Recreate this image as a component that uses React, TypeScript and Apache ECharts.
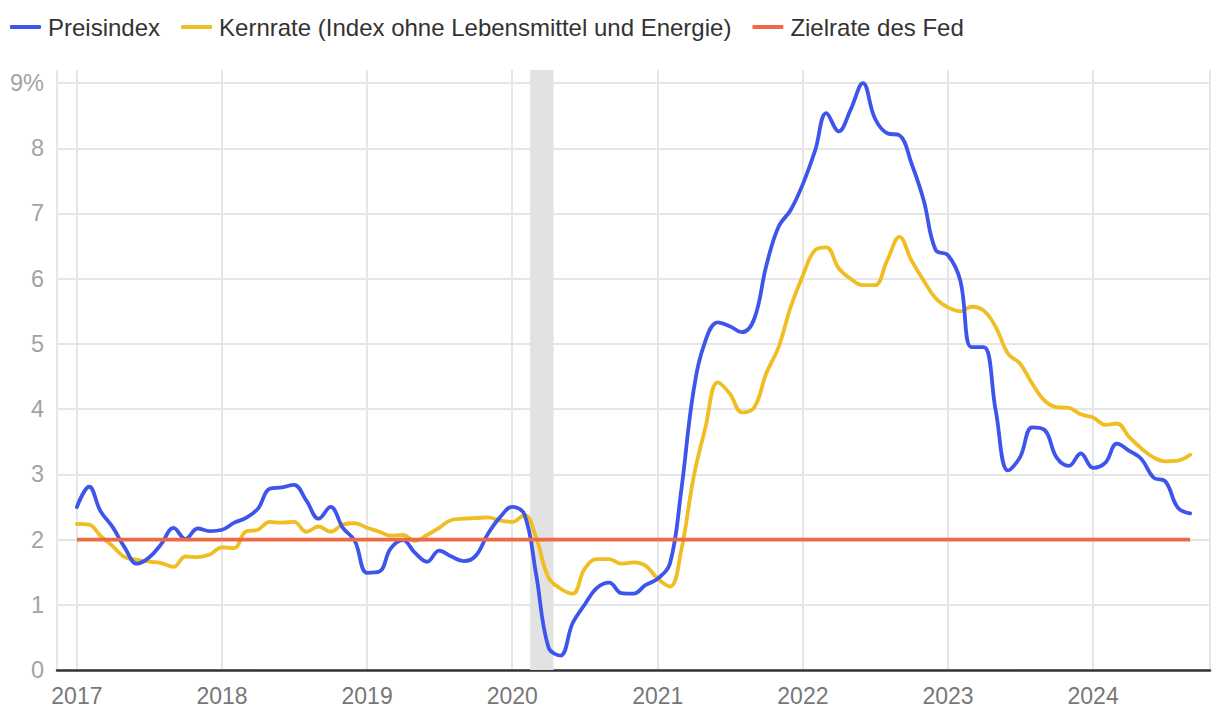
import React, { useEffect, useRef } from "react";
import * as echarts from "echarts";

const startYear = 2017;
const seriesNames = ["Preisindex", "Kernrate (Index ohne Lebensmittel und Energie)", "Zielrate des Fed"];

const headline = [
  2.50, 2.81, 2.44, 2.19, 1.88, 1.63, 1.72, 1.93, 2.18, 2.01, 2.17, 2.13,
  2.15, 2.26, 2.33, 2.47, 2.78, 2.80, 2.84, 2.60, 2.32, 2.50, 2.18, 1.98,
  1.49, 1.51, 1.86, 1.99, 1.80, 1.66, 1.83, 1.74, 1.67, 1.75, 2.09, 2.34,
  2.50, 2.38, 1.47, 0.35, 0.22, 0.72, 1.00, 1.26, 1.34, 1.18, 1.17, 1.30,
  1.40, 1.64, 2.75, 4.28, 5.05, 5.33, 5.27, 5.18, 5.39, 6.20, 6.80, 7.05,
  7.45, 7.97, 8.54, 8.26, 8.59, 9.00, 8.46, 8.23, 8.20, 7.77, 7.20, 6.44,
  6.36, 5.97, 4.95, 4.95, 3.98, 3.06, 3.26, 3.72, 3.68, 3.26, 3.13, 3.32,
  3.10, 3.18, 3.47, 3.36, 3.24, 2.95, 2.89, 2.49, 2.40,
];

const core = [
  2.24, 2.23, 2.06, 1.90, 1.73, 1.69, 1.66, 1.64, 1.58, 1.74, 1.73, 1.77,
  1.88, 1.87, 2.12, 2.15, 2.27, 2.26, 2.27, 2.12, 2.20, 2.12, 2.23, 2.25,
  2.18, 2.12, 2.06, 2.07, 1.98, 2.07, 2.18, 2.30, 2.32, 2.33, 2.34, 2.29,
  2.27, 2.38, 2.03, 1.42, 1.25, 1.17, 1.55, 1.70, 1.70, 1.63, 1.65, 1.60,
  1.40, 1.28, 1.83, 2.95, 3.72, 4.41, 4.24, 3.95, 4.03, 4.55, 4.95, 5.56,
  6.05, 6.44, 6.48, 6.16, 6.00, 5.90, 5.90, 6.28, 6.64, 6.28, 5.97, 5.70,
  5.56, 5.50, 5.57, 5.51, 5.26, 4.85, 4.70, 4.39, 4.13, 4.03, 4.02, 3.92,
  3.87, 3.76, 3.78, 3.57, 3.40, 3.26, 3.20, 3.21, 3.30,
];

const fedTarget = headline.map(() => 2.0);

const recession = ["2020-02-15", "2020-04-14"];
const xRange = ["2016-11-12", "2024-10-21"];
const yTicks = [0, 1, 2, 3, 4, 5, 6, 7, 8, 9];

const colors = ["#3d55ea", "#f0bd22", "#ec6b46"];

function monthDate(i: number): string {
  const y = startYear + Math.floor(i / 12);
  const m = (i % 12) + 1;
  return `${y}-${m < 10 ? "0" + m : m}-01`;
}

export default function App() {
  const ref = useRef<HTMLDivElement>(null);
  useEffect(() => {
    if (!ref.current) return;
    const chart = echarts.init(ref.current, undefined, { renderer: "svg" });
    const toPairs = (arr: number[]) => arr.map((v, i) => [monthDate(i), v]);
    const font = "'Liberation Sans', Arial, Helvetica, sans-serif";
    chart.setOption({
      animation: false,
      color: colors,
      textStyle: { fontFamily: font },
      legend: {
        left: 10,
        top: 15,
        padding: 0,
        itemGap: 21,
        itemWidth: 31,
        itemHeight: 4,
        icon: "roundRect",
        textStyle: { fontSize: 24, color: "#333", fontFamily: font, padding: [0, 0, 0, 2] },
        data: seriesNames,
      },
      grid: { left: 57, right: 10, top: 70, bottom: 46, containLabel: false },
      xAxis: {
        type: "time",
        min: xRange[0],
        max: xRange[1],
        minInterval: 365 * 24 * 3600 * 1000,
        maxInterval: 366 * 24 * 3600 * 1000,
        axisLine: { show: true, lineStyle: { color: "#333", width: 2.5 } },
        axisTick: { show: false },
        splitLine: { show: true, lineStyle: { color: "#e6e6e6", width: 2 } },
        axisLabel: {
          color: "#777",
          fontSize: 23,
          margin: 14,
          fontFamily: font,
          formatter: (val: number) => String(new Date(val).getFullYear()),
        },
      },
      yAxis: {
        type: "value",
        min: 0,
        max: 9.2,
        interval: 1,
        axisLine: { show: false },
        axisTick: { show: false },
        splitLine: { show: true, showMaxLine: false, lineStyle: { color: "#e6e6e6", width: 2 } },
        axisLabel: {
          color: "#a3a3a3",
          fontSize: 23.5,
          margin: 13,
          fontFamily: font,
          showMaxLabel: false,
          formatter: (v: number) => {
            if (!yTicks.includes(v)) return "";
            return v === 9 ? "9%" : String(v);
          },
        },
      },
      series: [
        {
          name: seriesNames[0],
          type: "line",
          data: toPairs(headline),
          smooth: 0.4,
          showSymbol: false,
          symbol: "none",
          lineStyle: { width: 3.8, color: colors[0], cap: "round", join: "round" },
          z: 3,
          markArea: {
            silent: true,
            itemStyle: { color: "#e2e2e2" },
            data: [[{ xAxis: recession[0] }, { xAxis: recession[1] }]],
          },
        },
        {
          name: seriesNames[1],
          type: "line",
          data: toPairs(core),
          smooth: 0.4,
          showSymbol: false,
          symbol: "none",
          lineStyle: { width: 3.8, color: colors[1], cap: "round", join: "round" },
          z: 2,
        },
        {
          name: seriesNames[2],
          type: "line",
          data: toPairs(fedTarget),
          showSymbol: false,
          symbol: "none",
          lineStyle: { width: 3.8, color: colors[2] },
          z: 4,
        },
      ],
    });
    return () => chart.dispose();
  }, []);
  return (
    <div
      ref={ref}
      style={{ position: "fixed", left: 0, top: 0, width: 1220, height: 716, background: "#fff" }}
    />
  );
}
